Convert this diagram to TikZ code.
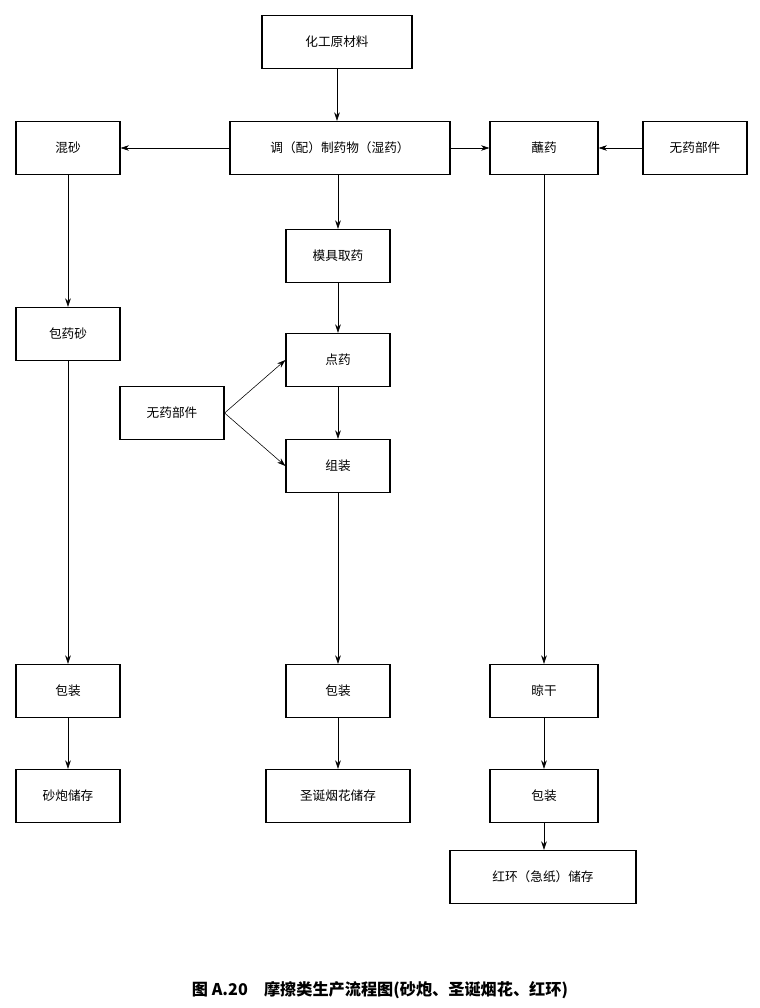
\documentclass[tikz,border=0pt]{standalone}
\usepackage{fontspec}
\setmainfont{Noto Sans CJK SC}
\usetikzlibrary{positioning,calc,arrows.meta}
\begin{document}
\begin{tikzpicture}[
    x=0.025cm, y=-0.025cm,
    box/.style={rectangle, draw, thick, fill=white, minimum width=2.6cm, minimum height=1.33cm, align=center, font=\fontsize{9}{11}\selectfont},
    arrow/.style={->,>={Stealth[length=6pt,width=4pt]}}
]
\useasboundingbox (0,0) rectangle (760,1008);
% Top row
\node[box, minimum width=3.75cm] (raw) at (337,42) {化工原材料};
\node[box, minimum width=5.5cm] (mix) at (340,148) {调（配）制药物（湿药）};
\node[box] (sand) at (68,148) {混砂};
\node[box, minimum width=2.7cm] (dip) at (544,148) {蘸药};
\node[box] (partr) at (695,148) {无药部件};

% Left column
\node[box] (wrap) at (68,334) {包药砂};
\node[box] (packl) at (68,691) {包装};
\node[box] (storel) at (68,796) {砂炮储存};

% Middle column
\node[box] (mold) at (338,256) {模具取药};
\node[box] (dot) at (338,360) {点药};
\node[box] (partl) at (172,413) {无药部件};
\node[box] (assy) at (338,466) {组装};
\node[box] (packm) at (338,691) {包装};
\node[box, minimum width=3.6cm] (storem) at (338,796) {圣诞烟花储存};

% Right column
\node[box, minimum width=2.7cm] (dry) at (544,691) {晾干};
\node[box, minimum width=2.7cm] (packr) at (544,796) {包装};
\node[box, minimum width=4.65cm] (storer) at (543,877) {红环（急纸）储存};

% Arrows
\draw[arrow] (raw) -- (raw|-mix.north);
\draw[arrow] (mix) -- (sand);
\draw[arrow] (mix) -- (dip);
\draw[arrow] (partr) -- (dip);
\draw[arrow] (sand) -- (wrap);
\draw[arrow] (wrap) -- (packl);
\draw[arrow] (packl) -- (storel);
\draw[arrow] (mix.south-|mold) -- (mold);
\draw[arrow] (mold) -- (dot);
\draw[arrow] (partl.east) -- (dot.west);
\draw[arrow] (partl.east) -- (assy.west);
\draw[arrow] (dot) -- (assy);
\draw[arrow] (assy) -- (packm);
\draw[arrow] (packm) -- (storem);
\draw[arrow] (dip) -- (dry);
\draw[arrow] (dry) -- (packr);
\draw[arrow] (packr) -- (storer.north-|packr);

% Caption
\node[font=\fontsize{11.5}{13}\selectfont\bfseries] (cap) at (380,990) {图 A.20\quad 摩擦类生产流程图(砂炮、圣诞烟花、红环)};
\end{tikzpicture}
\end{document}
